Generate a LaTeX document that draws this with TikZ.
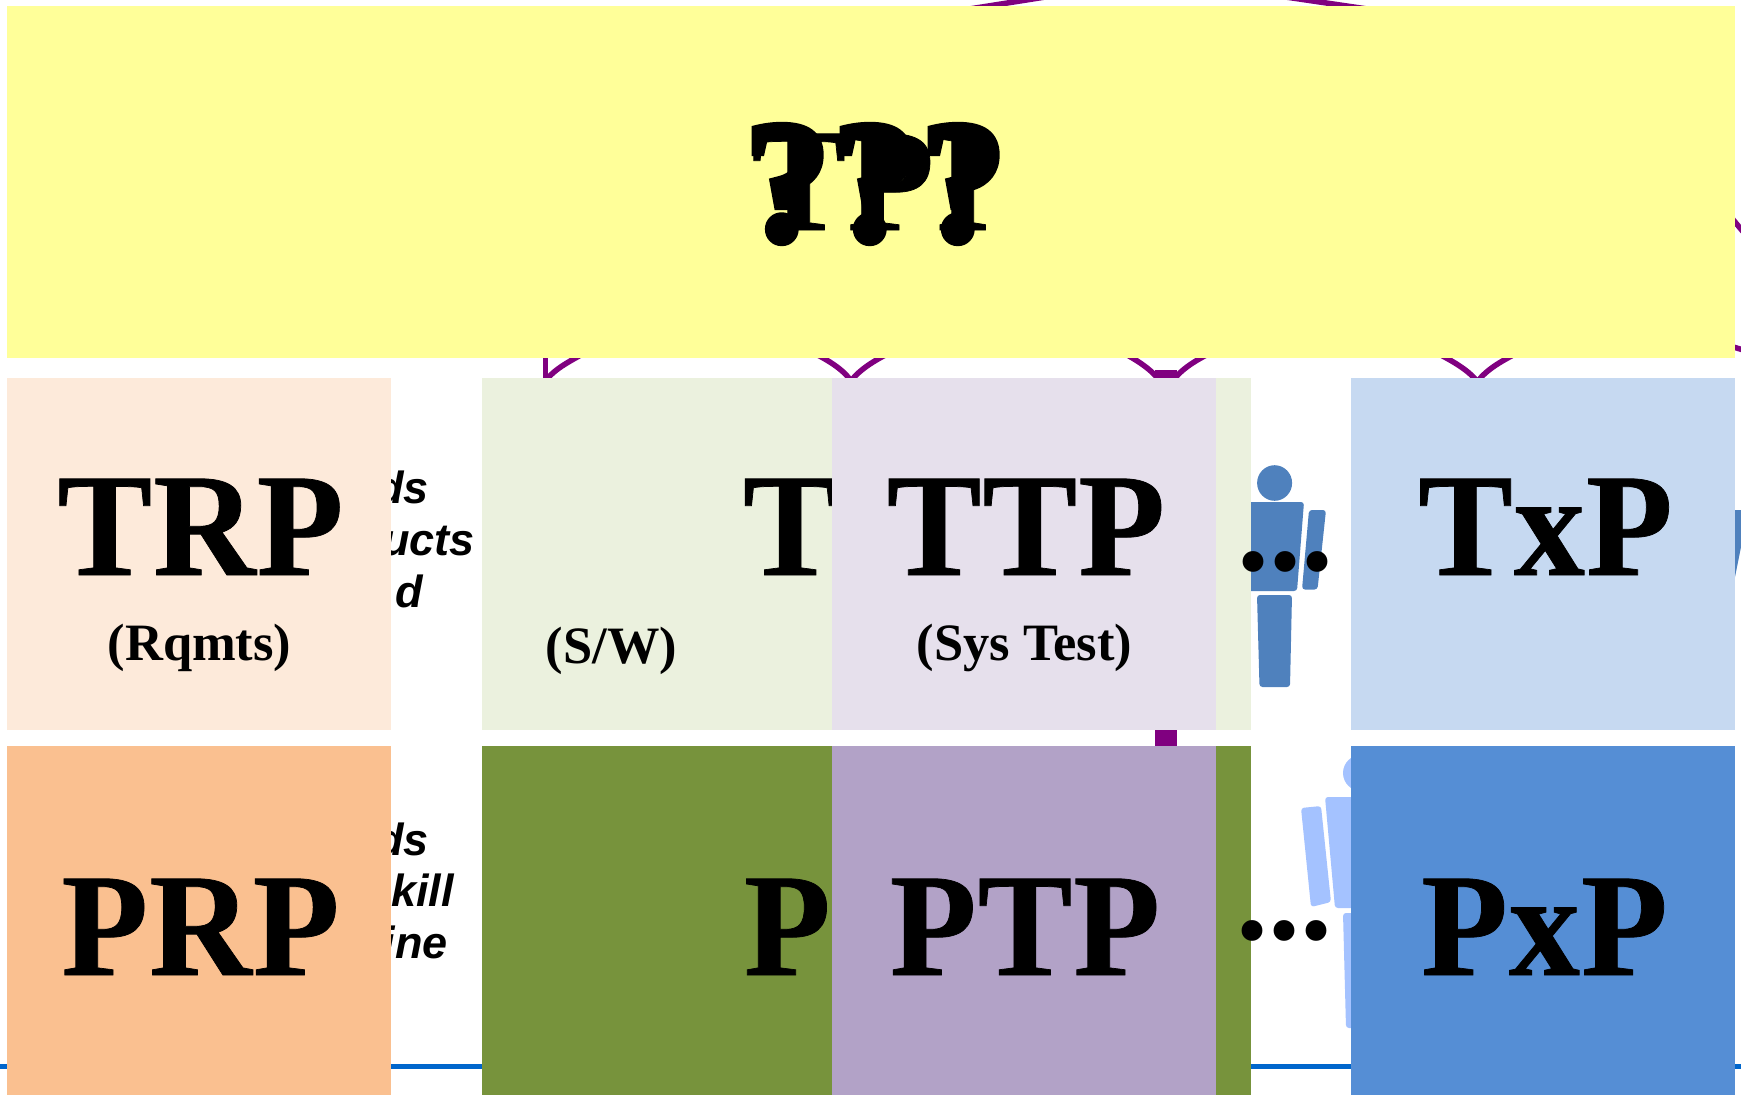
\documentclass[tikz,border=0pt]{standalone}
\usepackage{fontspec}
\setmainfont{Liberation Serif}
\newfontfamily\bigf[FakeStretch=0.965,FakeBold=0.5,LetterSpace=0.8]{Liberation Serif}
\newfontfamily\fatf[FakeBold=3]{Liberation Serif}
\newfontfamily\sidef{Liberation Sans}
\definecolor{linkpurple}{HTML}{800080}
\definecolor{railblue}{HTML}{0066CC}
\definecolor{bodyblue}{HTML}{4F81BD}
\definecolor{palebody}{HTML}{A4C2FF}
\definecolor{ylw}{HTML}{FFFF99}
\definecolor{peach}{HTML}{FDEADA}
\definecolor{pgreen}{HTML}{EBF1DE}
\definecolor{plav}{HTML}{E6E0EC}
\definecolor{pblue}{HTML}{C6D9F1}
\definecolor{sorange}{HTML}{FAC090}
\definecolor{sgreen}{HTML}{77933C}
\definecolor{slav}{HTML}{B2A2C7}
\definecolor{sblue}{HTML}{558ED5}
\tikzset{
  box/.style={inner sep=0pt,outer sep=0pt,draw=none},
  bigtext/.style={inner sep=0pt,outer sep=0pt,font=\bigf\bfseries\fontsize{147}{150}\selectfont},
  subtext/.style={inner sep=0pt,outer sep=0pt,font=\bfseries\fontsize{52.5}{56}\selectfont},
  dotstext/.style={inner sep=0pt,outer sep=0pt,font=\bfseries\fontsize{128}{130}\selectfont},
  sidetext/.style={inner sep=0pt,outer sep=0pt,anchor=base east,font=\sidef\bfseries\itshape\fontsize{45}{47}\selectfont},
  link/.style={draw=linkpurple,line width=5.5pt},
  limb/.style={rounded corners=3pt}
}
\begin{document}
\begin{tikzpicture}[x=1pt,y=-1pt]
\clip (0,0) rectangle (1741,1095);
% rail behind the boxes
\coordinate (railL) at (0,1066.5);
\coordinate (railR) at (1741,1066.5);
\draw[railblue,line width=5pt] (railL) -- (railR);
% connector ends
\coordinate (stemtop) at (1166,370);
\coordinate (stembot) at (1166,746);
\draw[linkpurple,line width=22pt] (stemtop) -- (stembot);
\coordinate (a1) at (545.5,350); \coordinate (a1e) at (545.5,380);
\draw[link] (a1) -- (a1e);
\coordinate (a2) at (590,350); \coordinate (a2e) at (546,380);
\draw[link] (a2) .. controls (570,361) and (556,368) .. (a2e);
\coordinate (b1) at (808,350); \coordinate (b1e) at (851,381);
\draw[link] (b1) .. controls (828,360) and (843,369) .. (b1e);
\coordinate (b2) at (895,350); \coordinate (b2e) at (851,381);
\draw[link] (b2) .. controls (875,360) and (860,369) .. (b2e);
\coordinate (c1) at (1118,350); \coordinate (c1e) at (1160,381);
\draw[link] (c1) .. controls (1137,360) and (1151,369) .. (c1e);
\coordinate (c2) at (1216,350); \coordinate (c2e) at (1173,381);
\draw[link] (c2) .. controls (1196,360) and (1181,369) .. (c2e);
\coordinate (d1) at (1431,350); \coordinate (d1e) at (1477,381);
\draw[link] (d1) .. controls (1451,360) and (1467,369) .. (d1e);
\coordinate (d2) at (1523,350); \coordinate (d2e) at (1478,381);
\draw[link] (d2) .. controls (1503,360) and (1487,369) .. (d2e);
\coordinate (t1) at (963,10); \coordinate (t1e) at (1058,-5);
\draw[link] (t1) -- (t1e);
\coordinate (t2) at (1272,-5); \coordinate (t2e) at (1374,10);
\draw[link] (t2) -- (t2e);
\coordinate (r1) at (1725,210); \coordinate (r1e) at (1750,240);
\draw[link] (r1) -- (r1e);
\coordinate (r2) at (1725,344.5); \coordinate (r2e) at (1750,352);
\draw[link] (r2) -- (r2e);
% figure, upper row
\fill[bodyblue] (1274.6,483) ellipse [x radius=17.5,y radius=17.8];
\fill[bodyblue,limb] (1240,502) -- (1304,502) -- (1297,591) -- (1240,591) -- cycle;
\fill[bodyblue,limb] (1257,595) -- (1292,595) -- (1290,687) -- (1259.5,687) -- cycle;
\fill[bodyblue,limb] (1309,510) -- (1326,510) -- (1317.5,589.5) -- (1302,589.5) -- cycle;
\fill[bodyblue] (1735,510) -- (1745,510) -- (1745,527) -- (1735,577) -- cycle;
% figure, lower row
\fill[palebody] (1361,773) circle (18);
\fill[palebody,limb] (1325,797) -- (1380,797) -- (1380,908) -- (1335,908) -- cycle;
\fill[palebody,limb] (1301,808) -- (1321,806) -- (1331,902) -- (1311,907) -- cycle;
\fill[palebody,limb] (1343,913) -- (1380,913) -- (1380,1028) -- (1346,1028) -- cycle;
% half-hidden side texts
\node[sidetext] (s1) at (429,503) {ds};
\node[sidetext] (s2) at (475,555) {ucts};
\node[sidetext] (s3) at (423,607) {d};
\node[sidetext] (s4) at (429,855) {ds};
\node[sidetext] (s5) at (454,906) {kill};
\node[sidetext] (s6) at (448,958) {ine};
% boxes
\node[box,fill=ylw,minimum width=1728pt,minimum height=352pt] (top) at (871,182) {};
\node[box,fill=peach,minimum width=384pt,minimum height=352pt] (trpbox) at (199,554) {};
\node[box,fill=pgreen,minimum width=769pt,minimum height=352pt] (tswbox) at (866.5,554) {};
\node[box,fill=pblue,minimum width=384pt,minimum height=352pt] (txpbox) at (1543,554) {};
\node[box,fill=sorange,minimum width=384pt,minimum height=349pt] (prpbox) at (199,920.5) {};
\node[box,fill=sgreen,minimum width=769pt,minimum height=349pt] (pswbox) at (866.5,920.5) {};
\node[box,fill=sblue,minimum width=384pt,minimum height=349pt] (pxpbox) at (1543,920.5) {};
\node[bigtext,anchor=base west] (tsw) at (743,575) {T};
\node[bigtext,anchor=base west] (psw) at (744,975) {P};
\node[box,fill=plav,minimum width=384pt,minimum height=352pt] (ttpbox) at (1024,554) {};
\node[box,fill=slav,minimum width=384pt,minimum height=349pt] (ptpbox) at (1024,920.5) {};
% labels
\node[bigtext,anchor=base] (toplab) at (871,230) {TPI};
\node[inner sep=0pt,outer sep=0pt,anchor=base,font=\fatf\bfseries\fontsize{176}{180}\selectfont] (qmarks) at (875.5,241) {???};
\node[bigtext,anchor=base] (trp) at (200.5,575) {TRP};
\node[bigtext,anchor=base] (ttp) at (1026,575) {TTP};
\node[bigtext,anchor=base] (txp) at (1545.5,575) {TxP};
\node[bigtext,anchor=base] (prp) at (200.5,975) {PRP};
\node[bigtext,anchor=base] (ptp) at (1025,975) {PTP};
\node[bigtext,anchor=base] (pxp) at (1544.5,975) {PxP};
\node[subtext,anchor=base] (rq) at (199.5,660) {(Rqmts)};
\node[subtext,anchor=base] (sw) at (611.5,663) {(S/W)};
\node[subtext,anchor=base] (st) at (1024.5,660) {(Sys Test)};
\node[dotstext,anchor=base] (dots1) at (1285,570) {...};
\node[dotstext,anchor=base] (dots2) at (1284,939) {...};
\end{tikzpicture}
\end{document}
